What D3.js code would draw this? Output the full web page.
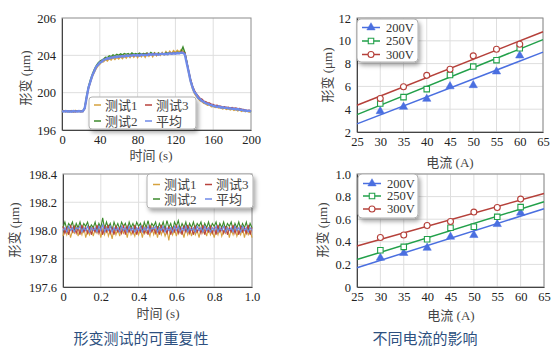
<!DOCTYPE html>
<html>
<head>
<meta charset="utf-8">
<script src="https://cdn.jsdelivr.net/npm/d3@7"></script>
<style>
  body { margin: 0; background: #fff; }
  svg text { font-family: "Liberation Serif", "Noto Sans CJK SC", serif; }
</style>
</head>
<body>
<div id="chart"></div>
<script>
// ---------- 形变测试的可重复性 : long run (0-200 s) ----------
const timeLong = [0,2,4,6,8,10,12,14,16,18,20,22,24,26,28,30,32,34,36,38,40,42,44,46,48,50,52,54,56,58,60,62,64,66,68,70,72,74,76,78,80,82,84,86,88,90,92,94,96,98,100,102,104,106,108,110,112,114,116,118,120,122,124,126,128,130,132,134,136,138,140,142,144,146,148,150,152,154,156,158,160,162,164,166,168,170,172,174,176,178,180,182,184,186,188,190,192,194,196,198,200];

const longTest1 = [197.94,198.08,197.96,198.05,197.92,198.07,197.97,198.1,197.95,198.04,197.91,198.06,
  198.25,199.4,200.45,201.1,201.7,202.15,202.55,202.85,
  203.05,203.3,203.3,203.55,203.4,203.65,203.5,203.75,203.55,203.8,
  203.6,203.85,203.65,203.95,203.7,204.0,203.75,204.05,203.8,204.1,
  203.75,204.1,203.85,204.15,203.8,204.2,203.9,204.2,203.85,204.25,
  203.95,204.25,204.0,204.3,204.05,204.4,204.1,204.45,204.2,204.5,
  204.3,204.55,204.35,204.6,204.45,204.3,203.3,202.1,201.15,200.45,
  199.95,199.6,199.4,199.15,199.05,198.85,198.8,198.65,198.7,198.5,
  198.55,198.4,198.45,198.35,198.4,198.25,198.35,198.2,198.3,198.15,
  198.25,198.1,198.2,198.05,198.15,198.0,198.1,197.95,198.05,197.92,
  198.02];
const longTest2 = [198.04,197.98,198.06,197.95,198.03,198.0,197.96,198.05,198.01,197.97,198.04,197.99,
  198.4,199.65,200.65,201.35,201.95,202.45,202.85,203.15,
  203.35,203.5,203.6,203.8,203.75,203.95,203.85,204.05,203.95,204.1,
  204.0,204.15,204.05,204.2,204.1,204.2,204.05,204.25,204.1,204.2,
  204.1,204.25,204.1,204.2,204.15,204.25,204.1,204.3,204.15,204.25,
  204.1,204.25,204.15,204.2,204.1,204.3,204.2,204.25,204.15,204.3,
  204.2,204.35,204.25,204.4,204.9,204.3,203.35,202.3,201.4,200.7,
  200.15,199.85,199.55,199.35,199.2,199.05,198.95,198.85,198.75,198.7,
  198.6,198.55,198.5,198.5,198.4,198.45,198.35,198.4,198.3,198.35,
  198.25,198.3,198.2,198.25,198.15,198.2,198.1,198.1,198.0,198.05,
  197.95];
const longTest3 = [197.99,198.04,197.95,198.02,198.06,197.97,198.01,197.94,198.05,197.99,198.03,197.96,
  198.3,199.45,200.45,201.15,201.8,202.3,202.7,203.0,
  203.2,203.4,203.45,203.65,203.6,203.75,203.7,203.85,203.75,203.9,
  203.8,203.95,203.85,204.0,203.9,204.0,203.95,204.05,203.95,204.05,
  203.95,204.1,204.0,204.1,204.0,204.15,204.05,204.15,204.05,204.2,
  204.05,204.15,204.1,204.2,204.1,204.2,204.15,204.25,204.15,204.25,
  204.2,204.3,204.2,204.35,204.3,204.25,203.3,202.35,201.45,200.75,
  200.25,199.9,199.65,199.4,199.3,199.1,199.05,198.9,198.9,198.75,
  198.75,198.6,198.65,198.55,198.55,198.45,198.5,198.4,198.45,198.35,
  198.4,198.3,198.35,198.25,198.3,198.2,198.2,198.15,198.1,198.12,
  198.05];
const longMean = [198.02,197.97,198.03,197.99,198.01,197.96,198.04,198.0,197.98,198.03,197.97,198.01,
  198.32,199.46,200.53,201.17,201.83,202.27,202.74,202.98,
  203.23,203.31,203.54,203.57,203.69,203.66,203.78,203.76,203.84,203.82,
  203.88,203.86,203.93,203.87,203.98,203.92,203.99,203.97,204.04,203.98,
  204.03,203.97,204.08,204.02,204.07,204.01,204.13,204.07,204.12,204.08,
  204.13,204.06,204.12,204.18,204.11,204.17,204.13,204.23,204.16,204.22,
  204.18,204.24,204.21,204.28,204.26,204.1,203.15,202.24,201.27,200.63,
  200.07,199.83,199.47,199.32,199.12,199.03,198.87,198.83,198.72,198.68,
  198.57,198.58,198.47,198.53,198.42,198.43,198.37,198.38,198.32,198.33,
  198.27,198.28,198.22,198.24,198.17,198.18,198.08,198.12,198.03,198.07,
  197.98];

// ---------- 形变测试的可重复性 : short run (0-1 s) ----------
const timeShort = [0,0.01,0.02,0.03,0.04,0.05,0.06,0.07,0.08,0.09,0.1,0.11,0.12,0.13,0.14,0.15,0.16,0.17,0.18,0.19,0.2,0.21,0.22,0.23,0.24,0.25,0.26,0.27,0.28,0.29,0.3,0.31,0.32,0.33,0.34,0.35,0.36,0.37,0.38,0.39,0.4,0.41,0.42,0.43,0.44,0.45,0.46,0.47,0.48,0.49,0.5,0.51,0.52,0.53,0.54,0.55,0.56,0.57,0.58,0.59,0.6,0.61,0.62,0.63,0.64,0.65,0.66,0.67,0.68,0.69,0.7,0.71,0.72,0.73,0.74,0.75,0.76,0.77,0.78,0.79,0.8,0.81,0.82,0.83,0.84,0.85,0.86,0.87,0.88,0.89,0.9,0.91,0.92,0.93,0.94,0.95,0.96,0.97,0.98,0.99,1.0];

const shortTest1 = [197.96,198.01,197.97,198.02,197.95,198.0,197.98,198.02,197.96,198.01,
  197.97,198.03,197.95,198.0,197.97,198.02,197.96,198.01,197.98,198.02,
  197.95,198.01,197.97,198.03,197.96,198.0,197.94,198.02,197.97,198.01,
  197.96,198.02,197.98,198.01,197.95,198.02,197.97,198.0,197.96,198.02,
  197.97,198.01,197.95,198.02,197.98,198.0,197.96,198.03,197.97,198.01,
  197.95,198.02,197.97,198.01,197.96,198.0,197.93,198.02,197.97,198.01,
  197.96,198.02,197.98,198.0,197.95,198.02,197.97,198.01,197.96,198.02,
  197.97,198.0,197.95,198.02,197.98,198.01,197.96,198.02,197.97,198.0,
  197.95,198.01,197.97,198.02,197.96,198.0,197.98,198.02,197.95,198.01,
  197.97,198.02,197.96,198.0,197.97,198.02,197.95,198.01,197.97,198.0,
  197.95];
const shortTest2 = [198.02,198.06,198.01,198.05,198.03,198.06,198.0,198.05,198.02,198.06,
  198.01,198.05,198.03,198.06,198.01,198.04,198.02,198.06,198.0,198.05,
  198.02,198.09,198.01,198.06,198.02,198.05,198.0,198.06,198.02,198.05,
  198.01,198.06,198.03,198.05,198.0,198.06,198.02,198.05,198.01,198.06,
  198.03,198.05,198.0,198.06,198.02,198.07,198.01,198.05,198.03,198.06,
  198.0,198.05,198.02,198.06,198.01,198.07,198.02,198.05,198.0,198.06,
  198.03,198.07,198.01,198.05,198.02,198.06,198.0,198.05,198.02,198.06,
  198.01,198.05,198.03,198.06,198.0,198.05,198.02,198.06,198.01,198.05,
  198.03,198.06,198.0,198.05,198.02,198.06,198.01,198.05,198.03,198.06,
  198.0,198.05,198.02,198.06,198.01,198.05,198.02,198.06,198.0,198.05,
  198.02];
const shortTest3 = [198.03,197.98,198.02,197.97,198.04,197.99,198.03,197.98,198.02,197.97,
  198.04,197.99,198.02,197.98,198.03,197.97,198.02,197.99,198.04,197.98,
  198.02,197.97,198.03,197.99,198.04,197.98,198.02,197.97,198.03,197.99,
  198.02,197.98,198.04,197.97,198.03,197.99,198.02,197.98,198.04,197.97,
  198.02,197.99,198.03,197.98,198.02,197.97,198.04,197.99,198.02,197.98,
  198.03,197.97,198.04,197.99,198.02,197.98,198.03,197.97,198.02,197.99,
  198.04,197.98,198.02,197.97,198.03,197.99,198.04,197.98,198.02,197.97,
  198.03,197.99,198.02,197.98,198.04,197.97,198.02,197.99,198.03,197.98,
  198.02,197.97,198.04,197.99,198.02,197.98,198.03,197.97,198.02,197.99,
  198.04,197.98,198.02,197.97,198.03,197.99,198.02,197.98,198.04,197.97,
  198.02];
const shortMean = [198.0,198.02,197.99,198.03,198.0,198.02,197.99,198.02,198.01,198.03,
  197.99,198.02,198.0,198.03,197.99,198.02,198.0,198.02,197.99,198.03,
  198.0,198.04,197.99,198.02,198.0,198.03,197.99,198.02,198.0,198.02,
  197.99,198.03,198.0,198.02,197.99,198.03,198.0,198.02,197.99,198.02,
  198.0,198.03,197.99,198.02,198.0,198.03,197.99,198.02,198.01,198.03,
  197.99,198.02,198.0,198.03,197.99,198.02,198.0,198.02,197.99,198.03,
  198.0,198.03,197.99,198.02,198.0,198.03,197.99,198.02,198.0,198.02,
  197.99,198.03,198.0,198.02,197.99,198.03,198.0,198.02,197.99,198.02,
  198.0,198.03,197.99,198.02,198.0,198.03,197.99,198.02,198.0,198.02,
  197.99,198.03,198.0,198.02,197.99,198.03,198.0,198.02,197.99,198.02,
  198.0];

const testNames = ["测试1", "测试2", "测试3", "平均"];

// ---------- 不同电流的影响 ----------
const current = [30, 35, 40, 45, 50, 55, 60];
const voltNames = ["200V", "250V", "300V"];
const largeV200 = [3.82, 4.2, 4.9, 6.0, 6.1, 7.3, 8.7];
const largeV250 = [4.5, 5.06, 5.76, 7.0, 7.74, 8.3, 9.35];
const largeV300 = [4.94, 5.97, 6.97, 7.5, 8.68, 9.26, 9.7];
const smallV200 = [0.257, 0.30, 0.346, 0.444, 0.459, 0.556, 0.657];
const smallV250 = [0.325, 0.355, 0.423, 0.524, 0.533, 0.621, 0.707];
const smallV300 = [0.438, 0.46, 0.544, 0.58, 0.663, 0.704, 0.778];

// tick values / labels
const longXTicks = [0, 40, 80, 120, 160, 200];
const longYTicks = [196, 200, 204, 208];
const longYLabels = ["196", "200", "204", "206"];
const shortXTicks = [0, 0.2, 0.4, 0.6, 0.8, 1.0];
const shortXLabels = ["0", "0.2", "0.4", "0.6", "0.8", "1.0"];
const shortYTicks = [197.6, 197.8, 198.0, 198.2, 198.4];
const currentTicks = [25, 30, 35, 40, 45, 50, 55, 60, 65];
const largeYTicks = [2, 4, 6, 8, 10, 12];
const smallYTicks = [0, 0.2, 0.4, 0.6, 0.8, 1.0];
const smallYLabels = ["0", "0.2", "0.4", "0.6", "0.8", "1.0"];

const testColors = ["#d6a23e", "#3c8a2c", "#b8423c", "#6f8ae8"];
const voltColors = ["#4a6fe0", "#22a04a", "#b5403a"];

const svg = d3.select("#chart").append("svg")
    .attr("width", 554)
    .attr("height", 353);

// soft shadow under the legends
svg.append("defs").append("filter")
    .attr("id", "shadow")
    .attr("x", "-20%").attr("y", "-20%")
    .attr("width", "150%").attr("height", "170%")
    .append("feDropShadow")
    .attr("dx", 2).attr("dy", 3)
    .attr("stdDeviation", 2)
    .attr("flood-color", "#000")
    .attr("flood-opacity", 0.35);

// frame, grid, ticks and axis titles of one panel
function drawPanel(p) {
    const x = d3.scaleLinear().domain(p.xDomain).range([p.left, p.right]);
    const y = d3.scaleLinear().domain(p.yDomain).range([p.bottom, p.top]);
    const g = svg.append("g");

    g.append("g").selectAll("line")
        .data(p.xGrid).join("line")
        .attr("x1", d => x(d)).attr("x2", d => x(d))
        .attr("y1", p.top).attr("y2", p.bottom)
        .attr("stroke", "#dedede");
    g.append("g").selectAll("line")
        .data(p.yGrid).join("line")
        .attr("y1", d => y(d)).attr("y2", d => y(d))
        .attr("x1", p.left).attr("x2", p.right)
        .attr("stroke", "#dedede");

    g.append("rect")
        .attr("x", p.left).attr("y", p.top)
        .attr("width", p.right - p.left).attr("height", p.bottom - p.top)
        .attr("fill", "none").attr("stroke", "#8c8c8c");

    const xAxis = g.append("g")
        .attr("transform", `translate(0,${p.bottom})`)
        .call(d3.axisBottom(x).tickValues(p.xTicks)
            .tickFormat((d, i) => p.xLabels ? p.xLabels[i] : d)
            .tickSize(0).tickPadding(5));
    const yAxis = g.append("g")
        .attr("transform", `translate(${p.left},0)`)
        .call(d3.axisLeft(y).tickValues(p.yTicks)
            .tickFormat((d, i) => p.yLabels ? p.yLabels[i] : d)
            .tickSize(0).tickPadding(6));
    [xAxis, yAxis].forEach(a => {
        a.attr("font-family", null).attr("font-size", 12.5);
        a.select(".domain").attr("stroke", "#444");
        a.selectAll("text").attr("fill", "#222");
    });

    g.append("text")
        .attr("x", p.xTitlePos[0]).attr("y", p.xTitlePos[1])
        .attr("dy", "0.35em")
        .attr("text-anchor", "middle")
        .attr("font-size", 13).attr("fill", "#444")
        .text(p.xTitle);
    g.append("text")
        .attr("transform", `translate(${p.yTitlePos[0]},${p.yTitlePos[1]}) rotate(-90)`)
        .attr("dy", "0.35em")
        .attr("text-anchor", "middle")
        .attr("font-size", 13).attr("fill", "#444")
        .text("形变 (μm)");

    return { g, x, y };
}

// ---------- top-left: long run ----------
const p1 = drawPanel({
    left: 62, right: 251, top: 18, bottom: 130,
    xDomain: [0, 200], yDomain: [196, 208],
    xTicks: longXTicks, yTicks: longYTicks, yLabels: longYLabels,
    xGrid: [40, 80, 120, 160], yGrid: [200, 204],
    xTitle: "时间 (s)", xTitlePos: [151, 155], yTitlePos: [25, 78]
});
[longTest1, longTest2, longTest3, longMean].forEach((vals, k) => {
    p1.g.append("path")
        .datum(vals)
        .attr("fill", "none")
        .attr("stroke", testColors[k])
        .attr("stroke-width", k === 3 ? 2.4 : 1.4)
        .attr("d", d3.line().x((d, i) => p1.x(timeLong[i])).y(d => p1.y(d)));
});

// ---------- bottom-left: short run ----------
const p2 = drawPanel({
    left: 63, right: 252, top: 174, bottom: 287,
    xDomain: [0, 1], yDomain: [197.6, 198.4],
    xTicks: shortXTicks, xLabels: shortXLabels,
    yTicks: shortYTicks, yLabels: shortYTicks.map(d => d.toFixed(1)),
    xGrid: [0.2, 0.4, 0.6, 0.8], yGrid: [197.8, 198.0, 198.2],
    xTitle: "时间 (s)", xTitlePos: [158, 313], yTitlePos: [14, 230]
});
[shortTest1, shortTest2, shortTest3, shortMean].forEach((vals, k) => {
    p2.g.append("path")
        .datum(vals)
        .attr("fill", "none")
        .attr("stroke", testColors[k])
        .attr("stroke-width", 1.1)
        .attr("d", d3.line().x((d, i) => p2.x(timeShort[i])).y(d => p2.y(d)));
});

// two-column legend for the test runs (测试1 测试3 / 测试2 平均)
function testLegend(g, bx, by, bw, bh, rows, cols) {
    g.append("rect")
        .attr("x", bx).attr("y", by).attr("width", bw).attr("height", bh)
        .attr("rx", 3)
        .attr("fill", "#fff").attr("stroke", "#b0b0b0")
        .attr("filter", "url(#shadow)");
    const order = [0, 2, 1, 3];
    order.forEach((k, j) => {
        const cx = cols[j % 2], cy = rows[Math.floor(j / 2)];
        g.append("line")
            .attr("x1", cx).attr("x2", cx + 7)
            .attr("y1", cy).attr("y2", cy)
            .attr("stroke", testColors[k]).attr("stroke-width", 1.5);
        g.append("text")
            .attr("x", cx + 11).attr("y", cy)
            .attr("dy", "0.35em")
            .attr("font-size", 13).attr("fill", "#444")
            .text(testNames[k]);
    });
}
testLegend(p1.g, 89, 97, 107, 32, [105, 121], [94, 145]);
testLegend(p2.g, 147, 174, 106, 34, [184.5, 199], [153, 205]);

// ---------- right: voltage / current panels ----------
function markerPath(k, size) {
    const type = [d3.symbolTriangle, d3.symbolSquare, d3.symbolCircle][k];
    return d3.symbol().type(type).size(size)();
}
const markerSizes = [30, 30, 28];

function fitLine(xs, ys) {
    const mx = d3.mean(xs), my = d3.mean(ys);
    const slope = d3.sum(xs, (d, i) => (d - mx) * (ys[i] - my)) / d3.sum(xs, d => (d - mx) * (d - mx));
    return xv => my + slope * (xv - mx);
}

function drawVoltSeries(p, seriesList) {
    seriesList.forEach((vals, k) => {
        const f = fitLine(current, vals);
        p.g.append("line")
            .attr("x1", p.x(25)).attr("y1", p.y(f(25)))
            .attr("x2", p.x(65)).attr("y2", p.y(f(65)))
            .attr("stroke", voltColors[k]).attr("stroke-width", 1.5);
        p.g.append("g").selectAll("path")
            .data(vals).join("path")
            .attr("transform", (d, i) => `translate(${p.x(current[i])},${p.y(d)})`)
            .attr("d", markerPath(k, markerSizes[k]))
            .attr("fill", k === 0 ? voltColors[k] : "#fff")
            .attr("stroke", voltColors[k])
            .attr("stroke-width", k === 0 ? 0.5 : 1.1);
    });
}

function voltLegend(g, bx, by, bw, bh, rows) {
    g.append("rect")
        .attr("x", bx).attr("y", by).attr("width", bw).attr("height", bh)
        .attr("rx", 4)
        .attr("fill", "#fff").attr("stroke", "#b0b0b0")
        .attr("filter", "url(#shadow)");
    voltNames.forEach((name, k) => {
        const cy = rows[k];
        g.append("line")
            .attr("x1", bx + 5).attr("x2", bx + 23)
            .attr("y1", cy).attr("y2", cy)
            .attr("stroke", voltColors[k]).attr("stroke-width", 1.5);
        g.append("path")
            .attr("transform", `translate(${bx + 14},${cy})`)
            .attr("d", markerPath(k, markerSizes[k]))
            .attr("fill", k === 0 ? voltColors[k] : "#fff")
            .attr("stroke", voltColors[k])
            .attr("stroke-width", k === 0 ? 0.5 : 1.1);
        g.append("text")
            .attr("x", bx + 29).attr("y", cy)
            .attr("dy", "0.35em")
            .attr("font-size", 12.5).attr("fill", "#333")
            .text(name);
    });
}

const p3 = drawPanel({
    left: 357, right: 543, top: 18, bottom: 132,
    xDomain: [25, 65], yDomain: [2, 12],
    xTicks: currentTicks, yTicks: largeYTicks,
    xGrid: currentTicks, yGrid: largeYTicks,
    xTitle: "电流 (A)", xTitlePos: [450, 162], yTitlePos: [327, 75]
});
drawVoltSeries(p3, [largeV200, largeV250, largeV300]);
voltLegend(p3.g, 357, 19, 61, 43, [27.5, 41, 54.5]);

const p4 = drawPanel({
    left: 357, right: 544, top: 174, bottom: 287,
    xDomain: [25, 65], yDomain: [0, 1],
    xTicks: currentTicks, yTicks: smallYTicks, yLabels: smallYLabels,
    xGrid: currentTicks, yGrid: smallYTicks,
    xTitle: "电流 (A)", xTitlePos: [451, 315], yTitlePos: [322, 230]
});
drawVoltSeries(p4, [smallV200, smallV250, smallV300]);
voltLegend(p4.g, 358, 174, 60, 44, [183.5, 196, 209]);

// ---------- captions ----------
[["形变测试的可重复性", 141], ["不同电流的影响", 425]].forEach(([t, cx]) => {
    svg.append("text")
        .attr("x", cx).attr("y", 339)
        .attr("dy", "0.35em")
        .attr("text-anchor", "middle")
        .style("font-family", "'Noto Sans CJK SC', sans-serif")
        .attr("font-size", 15)
        .attr("fill", "#2d5080")
        .text(t);
});
</script>
</body>
</html>
